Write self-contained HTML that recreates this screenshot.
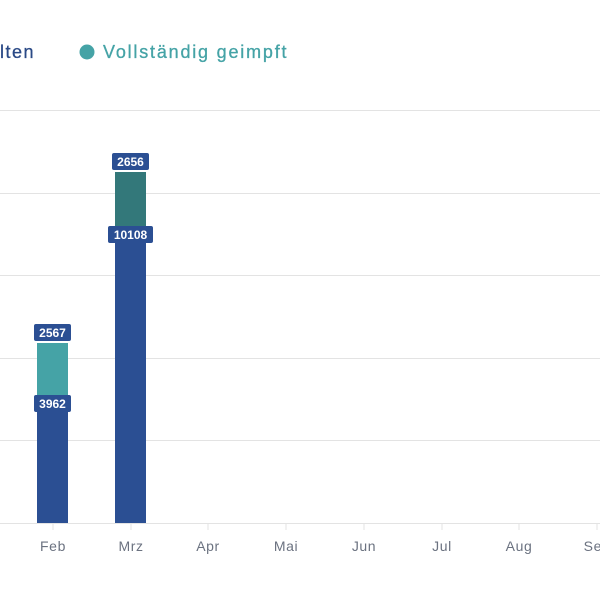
<!DOCTYPE html>
<html><head><meta charset="utf-8"><style>
body{margin:0;background:#fff;width:600px;height:600px;overflow:hidden}
svg text{font-family:"Liberation Sans",sans-serif}
</style></head><body>
<svg width="600" height="600" xmlns="http://www.w3.org/2000/svg">
<text x="35" y="58" text-anchor="end" font-size="18" letter-spacing="1.5" fill="#2b4a86" stroke="#2b4a86" stroke-width="0.3">lten</text>
<circle cx="87" cy="52" r="7.5" fill="#45a3a6"/>
<text x="103" y="58" font-size="18" letter-spacing="1.8" fill="#45a3a6" stroke="#45a3a6" stroke-width="0.3">Vollständig geimpft</text>
<g stroke="#e3e3e3" stroke-width="1">
<line x1="0" x2="600" y1="110.5" y2="110.5"/>
<line x1="0" x2="600" y1="193.5" y2="193.5"/>
<line x1="0" x2="600" y1="275.5" y2="275.5"/>
<line x1="0" x2="600" y1="358.5" y2="358.5"/>
<line x1="0" x2="600" y1="440.5" y2="440.5"/>
<line x1="0" x2="600" y1="523.5" y2="523.5"/>
<line x1="53" x2="53" y1="523" y2="530"/>
<line x1="131" x2="131" y1="523" y2="530"/>
<line x1="208" x2="208" y1="523" y2="530"/>
<line x1="286" x2="286" y1="523" y2="530"/>
<line x1="364" x2="364" y1="523" y2="530"/>
<line x1="442" x2="442" y1="523" y2="530"/>
<line x1="519" x2="519" y1="523" y2="530"/>
<line x1="597" x2="597" y1="523" y2="530"/>
</g>
<rect x="37" y="343" width="31" height="60" fill="#45a3a6"/>
<rect x="37" y="403" width="31" height="120" fill="#2b4f93"/>
<rect x="115" y="172" width="31" height="62" fill="#33787a"/>
<rect x="115" y="234" width="31" height="289" fill="#2b4f93"/>
<g font-size="12" font-weight="bold" fill="#fff" text-anchor="middle">
<rect x="34" y="324" width="37" height="17" rx="2" fill="#2b4f93"/><text x="52.5" y="337">2567</text>
<rect x="34" y="395" width="37" height="17" rx="2" fill="#2b4f93"/><text x="52.5" y="408">3962</text>
<rect x="112" y="153" width="37" height="17" rx="2" fill="#2b4f93"/><text x="130.5" y="166">2656</text>
<rect x="108" y="226" width="45" height="17" rx="2" fill="#2b4f93"/><text x="130.5" y="239">10108</text>
</g>
<g font-size="14" letter-spacing="0.6" fill="#6b7280" text-anchor="middle">
<text x="53" y="551">Feb</text><text x="131" y="551">Mrz</text><text x="208" y="551">Apr</text>
<text x="286" y="551">Mai</text><text x="364" y="551">Jun</text><text x="442" y="551">Jul</text>
<text x="519" y="551">Aug</text><text x="597" y="551">Sep</text>
</g>
</svg>
</body></html>
